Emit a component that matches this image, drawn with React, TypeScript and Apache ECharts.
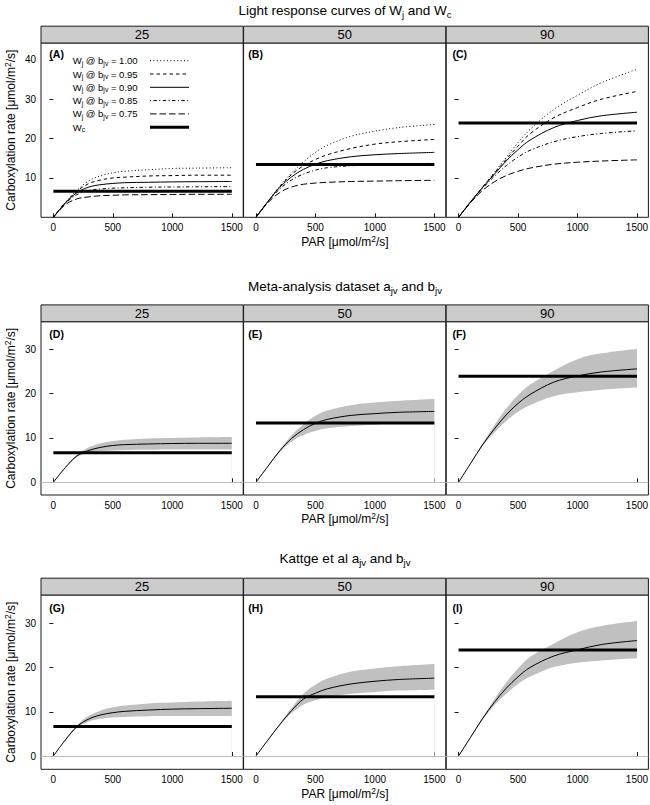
import React, { useEffect, useRef } from 'react';
import * as echarts from 'echarts';

const FONT = '"Liberation Sans", Arial, Helvetica, sans-serif';

// ---------- data ----------
const PAR = [0, 100, 200, 300, 400, 500, 600, 800, 1000, 1200, 1500];
const X_TICKS = [0, 500, 1000, 1500];
const Y_TICKS_TOP = [10, 20, 30, 40];
const Y_TICKS = [0, 10, 20, 30];
const STRIPS = ['25', '50', '90'];
const TAGS = ['(A)', '(B)', '(C)', '(D)', '(E)', '(F)', '(G)', '(H)', '(I)'];
const BJV_LABELS = ['1.00', '0.95', '0.90', '0.85', '0.75'];

// Wc per temperature (25, 50, 90)
const WC = [6.65, 13.4, 23.95];

// Panel A (25) : Wj for bjv = 1.00, 0.95, 0.90, 0.85, 0.75
const A_b100 = [0, 3.7, 6.9, 9.3, 10.6, 11.3, 11.7, 12.1, 12.4, 12.5, 12.6];
const A_b095 = [0, 3.7, 6.7, 8.6, 9.5, 10.0, 10.2, 10.5, 10.6, 10.7, 10.7];
const A_b090 = [0, 3.6, 6.3, 7.7, 8.3, 8.6, 8.8, 8.9, 9.0, 9.05, 9.1];
const A_b085 = [0, 3.5, 5.8, 6.8, 7.2, 7.4, 7.5, 7.65, 7.7, 7.75, 7.8];
const A_b075 = [0, 3.2, 4.7, 5.2, 5.5, 5.6, 5.7, 5.75, 5.8, 5.85, 5.85];

// Panel B (50)
const B_b100 = [0, 4.0, 7.9, 11.3, 14.1, 16.5, 18.3, 20.6, 21.9, 22.8, 23.6];
const B_b095 = [0, 4.0, 7.8, 10.9, 13.1, 14.7, 15.9, 17.5, 18.6, 19.2, 19.8];
const B_b090 = [0, 4.0, 7.6, 10.3, 12.2, 13.5, 14.4, 15.4, 15.9, 16.2, 16.5];
const B_b085 = [0, 3.9, 7.2, 9.5, 11.0, 12.0, 12.6, 13.1, 13.4, 13.6, 13.7];
const B_b075 = [0, 3.7, 6.3, 7.7, 8.4, 8.7, 8.9, 9.1, 9.2, 9.3, 9.4];

// Panel C (90)
const C_b100 = [0, 3.9, 7.6, 11.4, 15.2, 19.0, 22.3, 27.4, 31.0, 34.2, 37.6];
const C_b095 = [0, 3.9, 7.6, 11.2, 14.7, 18.1, 21.2, 25.3, 27.9, 30.0, 32.0];
const C_b090 = [0, 3.9, 7.5, 10.9, 14.3, 17.2, 19.6, 22.8, 24.6, 25.8, 26.7];
const C_b085 = [0, 3.8, 7.3, 10.4, 13.1, 15.3, 17.0, 19.2, 20.5, 21.3, 22.0];
const C_b075 = [0, 3.7, 6.8, 9.0, 10.6, 11.7, 12.5, 13.5, 14.0, 14.3, 14.6];

// Meta-analysis dataset (D, E, F): mean, lower, upper
const D_mean = [0, 3.3, 6.0, 7.2, 7.9, 8.3, 8.5, 8.65, 8.75, 8.8, 8.8];
const D_lo = [0, 3.2, 5.7, 6.6, 7.0, 7.2, 7.3, 7.35, 7.4, 7.4, 7.4];
const D_hi = [0, 3.4, 6.3, 7.9, 8.8, 9.3, 9.6, 9.9, 10.0, 10.1, 10.2];

const E_mean = [0, 3.6, 7.1, 9.9, 11.9, 13.3, 14.2, 15.1, 15.5, 15.8, 16.0];
const E_lo = [0, 3.5, 6.8, 9.2, 10.7, 11.6, 12.2, 12.7, 13.0, 13.2, 13.3];
const E_hi = [0, 3.7, 7.4, 10.6, 13.1, 15.0, 16.2, 17.4, 18.0, 18.4, 18.8];

const F_mean = [0, 4.2, 8.4, 12.0, 15.2, 17.8, 19.8, 22.6, 24.0, 24.9, 25.6];
const F_lo = [0, 4.1, 8.1, 11.2, 13.8, 15.9, 17.4, 19.4, 20.3, 20.9, 21.4];
const F_hi = [0, 4.3, 8.7, 12.9, 16.6, 19.7, 22.0, 25.2, 27.8, 29.1, 30.1];

// Kattge et al (G, H, I)
const G_mean = [0, 3.6, 6.7, 8.4, 9.3, 9.8, 10.1, 10.4, 10.6, 10.7, 10.8];
const G_lo = [0, 3.5, 6.4, 7.8, 8.4, 8.7, 8.85, 9.0, 9.05, 9.05, 9.05];
const G_hi = [0, 3.7, 7.0, 9.1, 10.3, 11.0, 11.4, 11.9, 12.1, 12.3, 12.5];

const H_mean = [0, 3.6, 7.1, 10.3, 12.9, 14.2, 15.2, 16.3, 16.9, 17.3, 17.6];
const H_lo = [0, 3.5, 6.9, 9.7, 11.6, 12.6, 13.3, 14.1, 14.5, 14.8, 15.0];
const H_hi = [0, 3.7, 7.3, 10.9, 14.1, 16.1, 17.5, 19.1, 19.8, 20.3, 20.8];

const I_mean = [0, 4.2, 8.4, 12.1, 15.3, 17.9, 20.0, 22.6, 24.0, 25.2, 26.1];
const I_lo = [0, 4.1, 8.1, 11.4, 14.0, 16.3, 17.9, 20.1, 21.1, 21.6, 22.1];
const I_hi = [0, 4.3, 8.7, 12.8, 16.6, 19.8, 22.4, 25.4, 28.0, 29.4, 30.5];

// ---------- layout ----------
const X_MIN = -104;
const X_MAX = 1596;
const COL_LEFT = [41, 243.6, 446.2];
const COL_W = 202.2;
const ROW_TOP = [43, 321.7, 595];
const ROW_H = [174.3, 173.3, 174.3];
const Y_RANGE = [
  [0, 44.3],
  [-2.87, 36.25],
  [-3.0, 36.4],
];
const STRIP_H = 16.8;
const TAG_X = [49.3, 248.3, 452.5];
const TAG_Y = [53.5, 333.5, 608.3];
const TITLE_Y = [10, 286, 558];
const XTITLE_Y = [242, 519, 794];
const CENTER_X = 345;
const SMOOTH = 0.35;

const DASHES: any[] = [[1, 2.4], [3.5, 3], 'solid', [1, 2.4, 3.5, 2.4], [6.5, 3]];
const INK = '#000000';
const FRAME = '#1a1a1a';
const BAND = '#c0c0c0';
const STRIP_FILL = '#cccccc';

function pairs(arr: number[]) {
  return PAR.map((p, k) => [p, arr[k]]);
}

function richText(base: number, small: number) {
  return {
    n: { fontSize: base, lineHeight: Math.round(base * 1.3), fontFamily: FONT, fill: INK, color: INK },
    s: { fontSize: small, lineHeight: small, verticalAlign: 'bottom', fontFamily: FONT, fill: INK, color: INK },
    p: { fontSize: small, lineHeight: small, verticalAlign: 'top', fontFamily: FONT, fill: INK, color: INK },
  };
}

function textEl(text: string, x: number, y: number, base: number, small: number, extra: any = {}) {
  return {
    type: 'text',
    x,
    y,
    silent: true,
    rotation: extra.rotation || 0,
    style: {
      text,
      rich: richText(base, small),
      fontSize: base,
      fontFamily: FONT,
      fill: INK,
      textAlign: extra.align || 'center',
      textVerticalAlign: 'middle',
      align: extra.align || 'center',
      verticalAlign: 'middle',
    },
  };
}

const plainNum = (v: number) => String(v);

function buildOption() {
  const topCurves = [
    [A_b100, A_b095, A_b090, A_b085, A_b075],
    [B_b100, B_b095, B_b090, B_b085, B_b075],
    [C_b100, C_b095, C_b090, C_b085, C_b075],
  ];
  const bands = [
    [D_mean, D_lo, D_hi],
    [E_mean, E_lo, E_hi],
    [F_mean, F_lo, F_hi],
    [G_mean, G_lo, G_hi],
    [H_mean, H_lo, H_hi],
    [I_mean, I_lo, I_hi],
  ];

  const grid: any[] = [];
  const xAxis: any[] = [];
  const yAxis: any[] = [];
  const series: any[] = [];
  const elements: any[] = [];

  for (let r = 0; r < 3; r++) {
    for (let c = 0; c < 3; c++) {
      const idx = r * 3 + c;
      grid.push({
        left: COL_LEFT[c],
        top: ROW_TOP[r],
        width: COL_W,
        height: ROW_H[r],
        show: true,
        borderColor: FRAME,
        borderWidth: 1,
        backgroundColor: 'rgba(0,0,0,0)',
        containLabel: false,
        outerBoundsMode: 'none',
      });
      xAxis.push({
        type: 'value',
        gridIndex: idx,
        min: X_MIN,
        max: X_MAX,
        axisLine: { show: false },
        splitLine: { show: false },
        axisTick: { show: true, inside: true, length: 4, customValues: X_TICKS, lineStyle: { color: FRAME, width: 1 } },
        axisLabel: { show: true, customValues: X_TICKS, formatter: plainNum, fontSize: 10, color: INK, margin: 5, fontFamily: FONT },
      });
      const yt = r === 0 ? Y_TICKS_TOP : Y_TICKS;
      const ya: any = {
        type: 'value',
        gridIndex: idx,
        min: Y_RANGE[r][0],
        max: Y_RANGE[r][1],
        axisLine: { show: false },
        splitLine: { show: false },
      };
      if (c === 0) {
        ya.position = 'left';
        ya.axisTick = { show: true, inside: false, length: 4, customValues: yt, lineStyle: { color: FRAME, width: 1 } };
        ya.axisLabel = { show: true, customValues: yt, formatter: plainNum, fontSize: 10, color: INK, margin: 5, fontFamily: FONT };
      } else if (c === 1) {
        ya.axisTick = { show: false };
        ya.axisLabel = { show: false };
      } else {
        ya.position = 'right';
        ya.axisTick = { show: true, inside: true, length: 4, customValues: yt, lineStyle: { color: FRAME, width: 1 } };
        ya.axisLabel = { show: false };
      }
      yAxis.push(ya);

      if (r === 0) {
        topCurves[c].forEach((arr, k) => {
          series.push({
            type: 'line',
            xAxisIndex: idx,
            yAxisIndex: idx,
            data: pairs(arr),
            symbol: 'none',
            smooth: SMOOTH,
            silent: true,
            lineStyle: { color: INK, width: 1, type: DASHES[k] },
          });
        });
      } else {
        const [mean, lo, hi] = bands[(r - 1) * 3 + c];
        series.push({
          type: 'line',
          xAxisIndex: idx,
          yAxisIndex: idx,
          data: pairs(hi),
          symbol: 'none',
          smooth: SMOOTH,
          silent: true,
          lineStyle: { width: 0, opacity: 0 },
          areaStyle: { color: BAND, opacity: 1, origin: 0 },
        });
        series.push({
          type: 'line',
          xAxisIndex: idx,
          yAxisIndex: idx,
          data: pairs(lo),
          symbol: 'none',
          smooth: SMOOTH,
          silent: true,
          lineStyle: { width: 0, opacity: 0 },
          areaStyle: { color: '#ffffff', opacity: 1, origin: 0 },
        });
        series.push({
          type: 'line',
          xAxisIndex: idx,
          yAxisIndex: idx,
          data: pairs(mean),
          symbol: 'none',
          smooth: SMOOTH,
          silent: true,
          lineStyle: { color: INK, width: 1 },
          markLine: {
            silent: true,
            symbol: ['none', 'none'],
            label: { show: false },
            lineStyle: { color: '#bdbdbd', width: 1, type: 'solid' },
            data: [{ yAxis: 0 }],
          },
        });
      }
      series.push({
        type: 'line',
        xAxisIndex: idx,
        yAxisIndex: idx,
        data: [
          [PAR[0], WC[c]],
          [PAR[PAR.length - 1], WC[c]],
        ],
        symbol: 'none',
        silent: true,
        lineStyle: { color: INK, width: 3 },
      });

      // strip
      elements.push({
        type: 'rect',
        silent: true,
        shape: { x: COL_LEFT[c], y: ROW_TOP[r] - STRIP_H, width: COL_W, height: STRIP_H },
        style: { fill: STRIP_FILL, stroke: FRAME, lineWidth: 1 },
      });
      elements.push(textEl(`{n|${STRIPS[c]}}`, COL_LEFT[c] + COL_W / 2, ROW_TOP[r] - STRIP_H / 2, 13, 9));
      // panel tag
      elements.push({
        type: 'text',
        silent: true,
        x: TAG_X[c],
        y: TAG_Y[r],
        style: {
          text: TAGS[idx],
          fontSize: 10.5,
          fontWeight: 'bold',
          fontFamily: FONT,
          fill: INK,
          textAlign: 'left',
          textVerticalAlign: 'middle',
          align: 'left',
          verticalAlign: 'middle',
        },
      });
    }
    // y-axis title
    const midY = ROW_TOP[r] + ROW_H[r] / 2;
    elements.push(
      textEl('{n|Carboxylation rate [μmol/m}{p|2}{n|/s]}', 11, midY, 12, 8.5, { rotation: Math.PI / 2 })
    );
    // x-axis title
    elements.push(textEl('{n|PAR [μmol/m}{p|2}{n|/s]}', CENTER_X, XTITLE_Y[r], 12, 8.5));
  }

  // row titles
  elements.push(textEl('{n|Light response curves of W}{s|j}{n| and W}{s|c}', CENTER_X, TITLE_Y[0], 13.5, 9.5));
  elements.push(textEl('{n|Meta-analysis dataset a}{s|jv}{n| and b}{s|jv}', CENTER_X, TITLE_Y[1], 13.5, 9.5));
  elements.push(textEl('{n|Kattge et al a}{s|jv}{n| and b}{s|jv}', CENTER_X, TITLE_Y[2], 13.5, 9.5));

  // legend in panel A
  const legY0 = 60.7;
  const legStep = 13.3;
  BJV_LABELS.forEach((lab, k) => {
    const y = legY0 + k * legStep;
    elements.push(textEl(`{n|W}{s|j}{n| @ b}{s|jv}{n| = ${lab}}`, 72.7, y, 9.5, 6.8, { align: 'left' }));
    const dash = DASHES[k];
    elements.push({
      type: 'line',
      silent: true,
      shape: { x1: 150, y1: y, x2: 189, y2: y },
      style: { stroke: INK, lineWidth: 1, lineDash: dash === 'solid' ? null : dash },
    });
  });
  const yWc = legY0 + 5 * legStep;
  elements.push(textEl('{n|W}{s|c}', 72.7, yWc, 9.5, 6.8, { align: 'left' }));
  elements.push({
    type: 'line',
    silent: true,
    shape: { x1: 150, y1: yWc, x2: 189, y2: yWc },
    style: { stroke: INK, lineWidth: 3 },
  });

  return {
    animation: false,
    backgroundColor: '#ffffff',
    textStyle: { fontFamily: FONT },
    grid,
    xAxis,
    yAxis,
    series,
    graphic: { elements },
  };
}

export default function App() {
  const ref = useRef<HTMLDivElement>(null);
  useEffect(() => {
    document.body.style.margin = '0';
    const chart = echarts.init(ref.current as HTMLDivElement, null, { renderer: 'svg' });
    chart.setOption(buildOption() as any);
    return () => {
      chart.dispose();
    };
  }, []);
  return <div ref={ref} style={{ width: 650, height: 805 }} />;
}
